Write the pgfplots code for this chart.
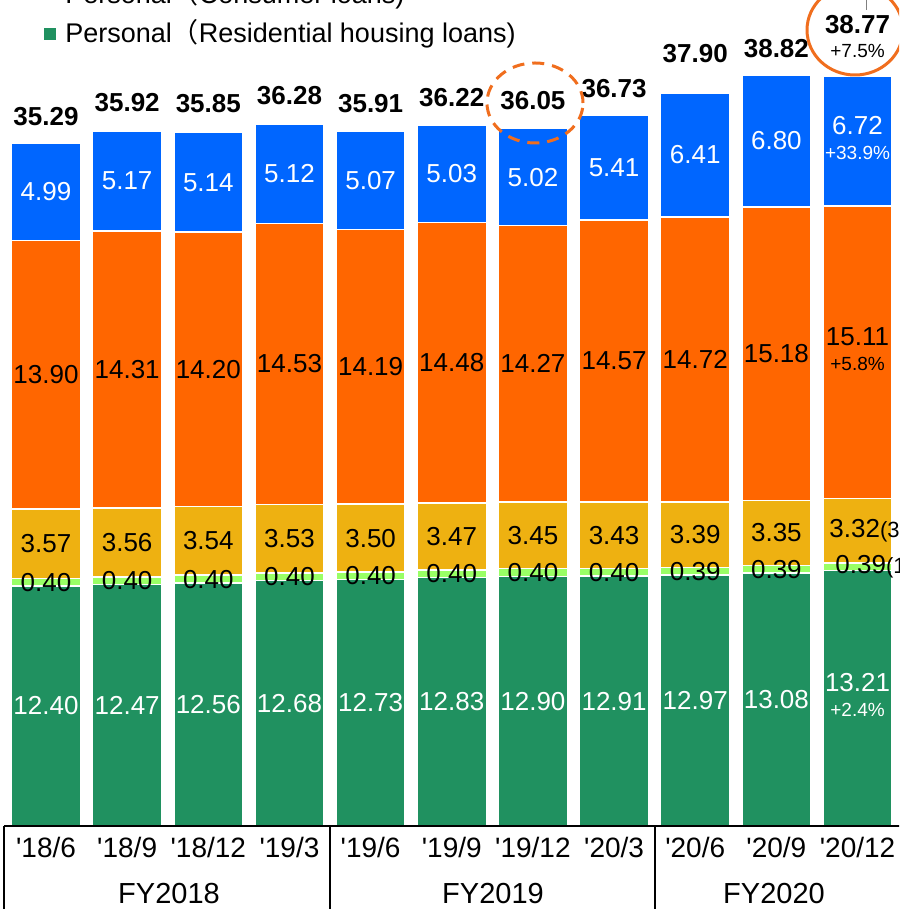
\documentclass[border=0pt]{standalone}
\usepackage{pgfplots}
\pgfplotsset{compat=1.18}
\usepackage{pgfplotstable}
\usepackage{fontspec}
\setmainfont{Liberation Sans}
\newfontfamily\cjk{Noto Sans CJK JP}
\definecolor{cgreen}{RGB}{32,145,96}
\definecolor{clgreen}{RGB}{153,255,102}
\definecolor{cyellow}{RGB}{238,177,17}
\definecolor{corange}{RGB}{255,102,0}
\definecolor{cblue}{RGB}{0,102,255}
\definecolor{cring}{RGB}{240,110,30}
\DeclareRobustCommand\two[2]{\begin{tabular}{@{}c@{}}#1\\[-2.5pt]{\fontsize{9.5}{11}\selectfont #2}\end{tabular}}

\pgfplotstableread{
x g l ye o b tot cg cl cy co cb ty
0 12.40 0.40 3.57 13.90 4.99 35.29 6.200 12.600 14.585 23.320 32.765 36.18
1 12.47 0.40 3.56 14.31 5.17 35.92 6.235 12.670 14.650 23.585 33.325 36.90
2 12.56 0.40 3.54 14.20 5.14 35.85 6.280 12.760 14.730 23.600 33.270 36.85
3 12.68 0.40 3.53 14.53 5.12 36.28 6.340 12.880 14.845 23.875 33.700 37.26
4 12.73 0.40 3.50 14.19 5.07 35.91 6.365 12.930 14.880 23.725 33.355 36.85
5 12.83 0.40 3.47 14.48 5.03 36.22 6.415 13.030 14.965 23.940 33.695 37.16
6 12.90 0.40 3.45 14.27 5.02 36.05 6.450 13.100 15.025 23.885 33.530 37.05
7 12.91 0.40 3.43 14.57 5.41 36.73 6.455 13.110 15.025 24.025 34.015 37.67
8 12.97 0.39 3.39 14.72 6.41 37.90 6.485 13.165 15.055 24.110 34.675 39.48
9 13.08 0.39 3.35 15.18 6.80 38.82 6.540 13.275 15.145 24.410 35.400 39.74
10 13.21 0.39 3.32 15.11 6.72 38.77 6.605 13.405 15.260 24.475 35.390 40.98
}\bars

\pgfplotsset{
  lab/.style={only marks, mark=none, nodes near coords, point meta=explicit symbolic,
    every node near coord/.append style={anchor=center, inner sep=0pt}},
  frame/.style={at={(0pt,41.5pt)}, anchor=south west, scale only axis,
    width=449.5pt, height=413pt, xmin=-0.5669, xmax=10.511, ymin=0, ymax=42.687},
}

\begin{document}
\begin{tikzpicture}[font=\fontsize{13}{15}\selectfont]
\useasboundingbox (0pt,0pt) rectangle (449.5pt,454.5pt);
\begin{scope}
\clip (0pt,0pt) rectangle (449.5pt,454.5pt);
\begin{axis}[frame,
  ybar stacked, bar width=34.5pt,
  axis line style={draw=none}, ytick=\empty,
  xtick={0,...,10}, major tick length=0pt,
  xticklabels={\textquotesingle18/6,\textquotesingle18/9,\textquotesingle18/12,\textquotesingle19/3,\textquotesingle19/6,\textquotesingle19/9,\textquotesingle19/12,\textquotesingle20/3,\textquotesingle20/6,\textquotesingle20/9,\textquotesingle20/12},
  xticklabel style={anchor=base, yshift=-16pt, inner sep=0pt, font=\fontsize{14}{16}\selectfont},
]
\addplot[fill=cgreen, draw=white, line width=0.75pt] table[x=x, y=g] \bars;
\addplot[fill=clgreen, draw=white, line width=0.75pt] table[x=x, y=l] \bars;
\addplot[fill=cyellow, draw=white, line width=0.75pt] table[x=x, y=ye] \bars;
\addplot[fill=corange, draw=white, line width=0.75pt] table[x=x, y=o] \bars;
\addplot[fill=cblue, draw=white, line width=0.75pt] table[x=x, y=b] \bars;
\end{axis}
\begin{axis}[frame, hide axis, clip=false]
\addplot[lab, skip coords between index={10}{11}, every node near coord/.append style={text=white}] table[x=x, y=cg, meta=g] \bars;
\addplot[lab, skip coords between index={10}{11}] table[x=x, y=cl, meta=l] \bars;
\addplot[lab, skip coords between index={10}{11}] table[x=x, y=cy, meta=ye] \bars;
\addplot[lab, skip coords between index={10}{11}] table[x=x, y=co, meta=o] \bars;
\addplot[lab, skip coords between index={10}{11}, every node near coord/.append style={text=white}] table[x=x, y=cb, meta=b] \bars;
\addplot[lab, every node near coord/.append style={anchor=base, font=\fontsize{13}{15}\selectfont\bfseries}] table[x=x, y=ty, meta=tot] \bars;
% last bar, with changes
\addplot[lab, every node near coord/.append style={text=white}] coordinates {(10,6.605) [\two{13.21}{+2.4\%}]};
\addplot[lab, every node near coord/.append style={text=white}] coordinates {(10,35.39) [\two{6.72}{+33.9\%}]};
\addplot[lab] coordinates {(10,24.475) [\two{15.11}{+5.8\%}]};
\addplot[lab, every node near coord/.append style={anchor=west, xshift=-14.25pt}] coordinates {(10,15.26) [{3.32{\fontsize{11}{12}\selectfont(3.0\%)}}]};
\addplot[lab, every node near coord/.append style={anchor=west, xshift=-11.25pt}] coordinates {(10,13.405) [{0.39{\fontsize{11}{12}\selectfont(1.0\%)}}]};
\addplot[lab, every node near coord/.append style={anchor=base, font=\fontsize{9.5}{11}\selectfont}] coordinates {(10,39.69) [{+7.5\%}]};
\end{axis}
% table below the bars
\draw[line width=1pt] (2pt,41.5pt) -- (452pt,41.5pt);
\draw[line width=1pt] (2pt,41.5pt) -- (2pt,-2pt);
\draw[line width=1pt] (165pt,41.5pt) -- (165pt,-2pt);
\draw[line width=1pt] (327.5pt,41.5pt) -- (327.5pt,-2pt);
\node[anchor=base, inner sep=0pt, font=\fontsize{14.5}{16}\selectfont] at (84.5pt,2.5pt) {FY2018};
\node[anchor=base, inner sep=0pt, font=\fontsize{14.5}{16}\selectfont] at (246.5pt,2.5pt) {FY2019};
\node[anchor=base, inner sep=0pt, font=\fontsize{14.5}{16}\selectfont] at (387pt,2.5pt) {FY2020};
% legend (partly cut off)
\node[anchor=base west, inner sep=0pt, font=\fontsize{13.5}{16}\selectfont] at (32.5pt,452.5pt) {Personal{\cjk （}Consumer loans)};
\fill[cgreen] (22pt,434.5pt) rectangle (28pt,440.5pt);
\node[anchor=base west, inner sep=0pt, font=\fontsize{13.5}{16}\selectfont] at (32.5pt,433pt) {Personal{\cjk （}Residential housing loans)};
% highlights
\draw[cring, line width=1.5pt, dash pattern=on 6pt off 4pt] (267.5pt,403pt) ellipse [x radius=24pt, y radius=20pt];
\draw[cring, line width=1.5pt] (427.5pt,439.5pt) ellipse [x radius=24pt, y radius=22.5pt];
\draw[gray, line width=0.5pt] (433pt,449.5pt) -- (433pt,456pt);
\end{scope}
\end{tikzpicture}
\end{document}
